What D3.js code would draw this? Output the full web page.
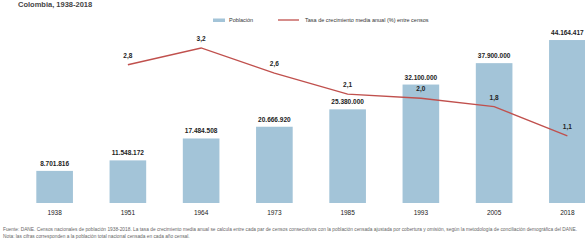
<!DOCTYPE html>
<html>
  <head>
    <meta charset="utf-8">
    <script type="text/javascript" src="https://cdn.jsdelivr.net/npm/d3@7/dist/d3.min.js"></script>
    <style type="text/css">

html, body {
  margin: 0;
  background: #fff;
  font-family: "Liberation Sans", Arial, sans-serif;
}

svg {
  display: block;
}

.bar {
  fill: #a3c4d8;
}

.rate {
  fill: none;
  stroke: #c0504d;
  stroke-width: 1.3;
}

    </style>
  </head>
  <body>
    <div id="chart"></div>
    <script type="text/javascript">

// census years, population and mean annual growth rate between censuses
var years = ["1938", "1951", "1964", "1973", "1985", "1993", "2005", "2018"];
var population = [8701816, 11548172, 17484508, 20666920, 25380000, 32100000, 37900000, 44164417];
var rates = [null, 2.8, 3.2, 2.6, 2.1, 2.0, 1.8, 1.1];

var title = "Colombia, 1938-2018";
var legendPop = "Población";
var legendRate = "Tasa de crecimiento media anual (%) entre censos";
var source = [
  "Fuente: DANE. Censos nacionales de población 1938-2018. La tasa de crecimiento media anual se calcula entre cada par de censos consecutivos con la población censada ajustada por cobertura y omisión, según la metodología de conciliación demográfica del DANE.",
  "Nota: las cifras corresponden a la población total nacional censada en cada año censal."
];

var width = 585,
    height = 244,
    baseline = 203;

var es = d3.formatLocale({decimal: ",", thousands: ".", grouping: [3], currency: ["$", ""]});
var fmtPop = es.format(",d"),
    fmtRate = es.format(".1f");

var svg = d3.select("#chart").append("svg")
    .attr("width", width)
    .attr("height", height);

var x = d3.scaleBand()
    .domain(years)
    .range([18, 604])
    .paddingInner(0.5)
    .paddingOuter(0.25);

var y = d3.scaleLinear()
    .domain([0, 48000000])
    .range([baseline, baseline - 48 * 3.69]);

var yRate = d3.scaleLinear()
    .domain([0, 4])
    .range([182, 14.5]);

// title
svg.append("text")
    .attr("x", 18)
    .attr("y", 7)
    .style("font-size", "7.5px")
    .style("font-weight", "bold")
    .style("fill", "#444")
    .text(title);

// legend
var legend = svg.append("g");
legend.append("rect")
    .attr("x", 213).attr("y", 18.5)
    .attr("width", 12).attr("height", 3.5)
    .attr("class", "bar");
legend.append("text")
    .attr("x", 229).attr("y", 22)
    .style("font-size", "5.5px")
    .style("fill", "#333")
    .text(legendPop);
legend.append("line")
    .attr("x1", 278).attr("x2", 299)
    .attr("y1", 20).attr("y2", 20)
    .attr("class", "rate");
legend.append("text")
    .attr("x", 305).attr("y", 22)
    .style("font-size", "5.5px")
    .style("fill", "#333")
    .text(legendRate);

// bars
svg.selectAll("rect.bar.data")
    .data(population)
  .enter().append("rect")
    .attr("class", "bar data")
    .attr("x", function(d, i) { return x(years[i]); })
    .attr("y", function(d) { return y(d); })
    .attr("width", x.bandwidth())
    .attr("height", function(d) { return baseline - y(d); });

svg.selectAll("text.pop")
    .data(population)
  .enter().append("text")
    .attr("class", "pop")
    .attr("x", function(d, i) { return x(years[i]) + x.bandwidth() / 2; })
    .attr("y", function(d) { return y(d) - 5; })
    .attr("text-anchor", "middle")
    .style("font-size", "6.5px")
    .style("font-weight", "bold")
    .style("fill", "#222")
    .text(fmtPop);

// x axis labels
var xAxis = d3.axisBottom(x).tickSize(0).tickPadding(7);
svg.append("g")
    .attr("transform", "translate(0," + baseline + ")")
    .call(xAxis)
    .call(function(g) { g.select(".domain").remove(); })
    .selectAll("text")
    .style("font-size", "6.5px")
    .style("font-family", "Liberation Sans, Arial, sans-serif")
    .style("fill", "#222");

// growth rate line
var rateData = rates.map(function(r, i) { return {year: years[i], r: r}; })
    .filter(function(d) { return d.r != null; });

var line = d3.line()
    .x(function(d) { return x(d.year) + x.bandwidth() / 2; })
    .y(function(d) { return yRate(d.r); });

svg.append("path")
    .datum(rateData)
    .attr("class", "rate")
    .attr("d", line);

svg.selectAll("text.rlabel")
    .data(rateData)
  .enter().append("text")
    .attr("class", "rlabel")
    .attr("x", function(d) { return x(d.year) + x.bandwidth() / 2; })
    .attr("y", function(d) { return yRate(d.r) - 7; })
    .attr("text-anchor", "middle")
    .style("font-size", "6.5px")
    .style("font-weight", "bold")
    .style("fill", "#222")
    .text(function(d) { return fmtRate(d.r); });

// source notes (first line stretched to the full width like the original)
svg.selectAll("text.src")
    .data(source)
  .enter().append("text")
    .attr("class", "src")
    .attr("x", 3)
    .attr("y", function(d, i) { return 231 + i * 7; })
    .style("font-size", "4.8px")
    .style("fill", "#666")
    .text(function(d) { return d; })
    .filter(function(d, i) { return i === 0; })
    .attr("textLength", 574)
    .attr("lengthAdjust", "spacing");

    </script>
  </body>
</html>
